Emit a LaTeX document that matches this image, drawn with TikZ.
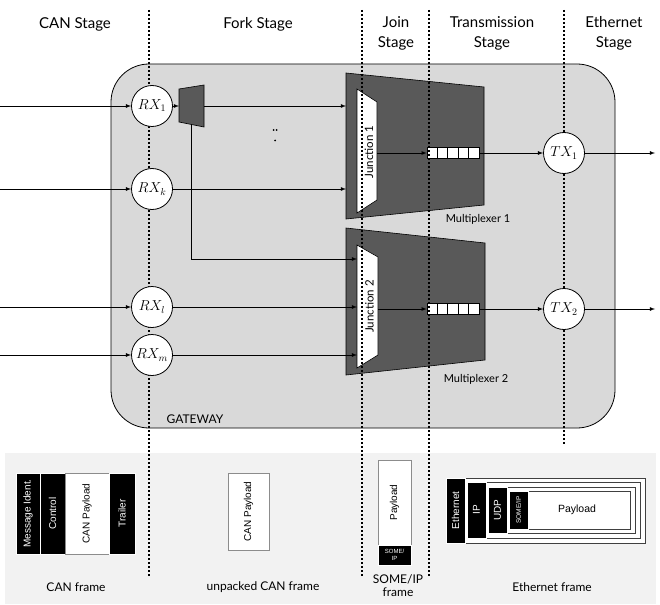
\documentclass[tikz,border=0pt]{standalone}
\usepackage{graphicx}
\usepackage{fontspec}
\setmainfont{Lato}
\newfontfamily\framefont{Liberation Sans}
\usetikzlibrary{arrows,positioning}

\definecolor{gatewaygray}{gray}{0.85}
\definecolor{muxgray}{gray}{0.35}
\definecolor{panelgray}{gray}{0.95}

\begin{document}
\begin{tikzpicture}[x=1pt,y=-1pt,>=latex,
    stage/.style={font=\fontsize{15}{20}\selectfont,align=center},
    stageline/.style={line width=1.6pt,dash pattern=on 2.4pt off 1.6pt},
    port/.style={circle,draw,fill=white,line width=0.8pt,minimum size=41pt,inner sep=0pt,font=\fontsize{14.4}{16}\selectfont},
    mux/.style={draw,fill=muxgray,line width=0.6pt},
    junction/.style={draw,fill=white,line width=0.6pt},
    queue/.style={draw,fill=white,line width=0.6pt,minimum width=52pt,minimum height=11pt,inner sep=0pt},
    flow/.style={->,line width=0.8pt},
    caption/.style={font=\fontsize{12}{14}\selectfont,align=center},
    blackcell/.style={fill=black,draw=white,line width=0.8pt,text=white,inner sep=0pt,outer sep=0pt,font=\framefont\fontsize{10}{11}\selectfont},
    whitecell/.style={fill=white,draw=black!45,line width=0.8pt,inner sep=0pt,outer sep=0pt,font=\framefont\fontsize{10}{11}\selectfont},
    framebox/.style={fill=white,draw=black!75,line width=0.7pt,inner sep=0pt,outer sep=0pt}]

    \useasboundingbox (0,0) rectangle (660,604);

    \filldraw[fill=gatewaygray,line width=0.8pt,rounded corners=38pt] (111,64) rectangle (615,428);
    \fill[panelgray] (5,453) rectangle (656,604);

    \node[stage] (canstage) at (75,24) {CAN Stage};
    \node[stage] (forkstage) at (258,24) {Fork Stage};
    \node[stage] (joinstage) at (396,33) {Join\\Stage};
    \node[stage] (txstage) at (492,33) {Transmission\\Stage};
    \node[stage] (ethstage) at (614,33) {Ethernet\\Stage};

    \filldraw[mux] (346,73) -- (484,87) -- (484,205) -- (346,219) -- cycle;
    \filldraw[mux] (346,228) -- (485,243) -- (485,360) -- (346,375) -- cycle;
    \filldraw[junction] (357,89) -- (377,102) -- (377,200) -- (357,213) -- cycle;
    \filldraw[junction] (357,245) -- (378,257) -- (378,355) -- (357,368) -- cycle;
    \node[node font=\fontsize{11.5}{13}\selectfont,rotate=90] (j1) at (369,152) {Junction 1};
    \node[node font=\fontsize{11.5}{13}\selectfont,rotate=90] (j2) at (369.5,306.5) {Junction 2};
    \node[font=\fontsize{11}{13}\selectfont] (mux1) at (478,219) {Multiplexer 1};
    \node[font=\fontsize{11}{13}\selectfont] (mux2) at (476,379) {Multiplexer 2};
    \node[font=\fontsize{12}{14}\selectfont] (gw) at (195,419) {GATEWAY};
    \foreach \x/\y in {273.5/130, 276.5/130, 275/140.5}
        {
        \fill (\x,\y) circle (1pt);
        }

    \node[queue] (q1) at (453,153) {};
    \node[queue] (q2) at (453,309) {};
    \foreach \q in {q1,q2}
        \foreach \i in {1,...,4}
            {
            \draw[line width=0.6pt] ([xshift=\i*10.4pt]\q.south west) -- ([xshift=\i*10.4pt]\q.north west);
            }

    \filldraw[mux] (179,89) -- (204,85) -- (204,127) -- (179,122) -- cycle;
    \node[minimum width=25pt,minimum height=36pt,inner sep=0pt,outer sep=0pt] (fork) at (191.5,106) {};

    \foreach \x/\y in {149/577, 362/577, 429/577, 564/445}
        {
        \draw[stageline] (\x,10) -- (\x,\y);
        }

    \node[port] (rx1) at (152,106) {$RX_1$};
    \node[port] (rxk) at (152,189) {$RX_k$};
    \node[port] (rxl) at (152,307) {$RX_l$};
    \node[port] (rxm) at (152,355) {$RX_m$};
    \node[port] (tx1) at (564,153) {$TX_1$};
    \node[port] (tx2) at (564,309) {$TX_2$};

    \coordinate (m1a) at (346,106);
    \coordinate (m1b) at (346,189);
    \coordinate (j1out) at (377,153);
    \coordinate (j2a) at (357,259);
    \coordinate (j2b) at (357,307);
    \coordinate (j2c) at (357,355);
    \coordinate (j2out) at (378,309);
    \coordinate (outa) at (655,153);
    \coordinate (outb) at (655,309);

    \foreach \p/\y in {rx1/106, rxk/189, rxl/307, rxm/355}
        {
        \coordinate (in\p) at (0,\y);
        \path[flow] (in\p) edge (\p);
        }

    \foreach \from/\to in {rx1/fork.west, fork.east/m1a, rxk/m1b, rxl/j2b, rxm/j2c, j1out/q1, j2out/q2, q1/tx1, q2/tx2, tx1/outa, tx2/outb}
        {
        \path[flow] (\from) edge (\to);
        }
    \draw[flow] (fork.south) |- (j2a);

    \node[blackcell,minimum width=24pt,minimum height=81pt] (ident) at (28,513.5) {\rotatebox{90}{Message Ident.}};
    \node[blackcell,minimum width=25pt,minimum height=81pt,right=0pt of ident] (ctrl) {\rotatebox{90}{Control}};
    \node[whitecell,minimum width=44pt,minimum height=81pt,right=0pt of ctrl] (canpay) {\rotatebox{90}{CAN Payload}};
    \node[blackcell,minimum width=26pt,minimum height=81pt,right=0pt of canpay] (trail) {\rotatebox{90}{Trailer}};

    \node[whitecell,minimum width=41pt,minimum height=77pt] (unpay) at (248.5,511.5) {\rotatebox{90}{CAN Payload}};

    \node[whitecell,minimum width=33pt,minimum height=85pt] (sipay) at (394.5,502.5) {\rotatebox{90}{Payload}};
    \node[blackcell,minimum width=33pt,minimum height=20pt,below=0pt of sipay,font=\framefont\fontsize{6}{6.5}\selectfont,align=center] (sihdr) {SOME/\\IP};

    \node[framebox,minimum width=199pt,minimum height=65pt] (eth) at (545.5,510.5) {};
    \node[blackcell,minimum width=19pt,minimum height=65pt,anchor=west] (ethhdr) at (eth.west) {\rotatebox{90}{Ethernet}};
    \node[framebox,minimum width=173pt,minimum height=56pt,anchor=west] (ip) at (467,510) {};
    \node[blackcell,minimum width=19pt,minimum height=56pt,anchor=west] (iphdr) at (ip.west) {\rotatebox{90}{IP}};
    \node[framebox,minimum width=147pt,minimum height=46pt,anchor=west] (udp) at (488,510) {};
    \node[blackcell,minimum width=19pt,minimum height=46pt,anchor=west] (udphdr) at (udp.west) {\rotatebox{90}{UDP}};
    \node[framebox,minimum width=121pt,minimum height=38pt,anchor=west] (someip) at (509,510) {};
    \node[blackcell,minimum width=19pt,minimum height=38pt,anchor=west,font=\framefont\fontsize{6.5}{7}\selectfont] (somehdr) at (someip.west) {\rotatebox{90}{SOME/IP}};
    \node[font=\framefont\fontsize{10.5}{12}\selectfont] (ethpay) at (577,510) {Payload};

    \node[caption] (canframe) at (76,587) {CAN frame};
    \node[caption] (unframe) at (263,587) {unpacked CAN frame};
    \node[caption,font=\fontsize{12}{13}\selectfont] (siframe) at (398,586) {SOME/IP\\frame};
    \node[caption] (ethframe) at (552,587) {Ethernet frame};

\end{tikzpicture}
\end{document}
